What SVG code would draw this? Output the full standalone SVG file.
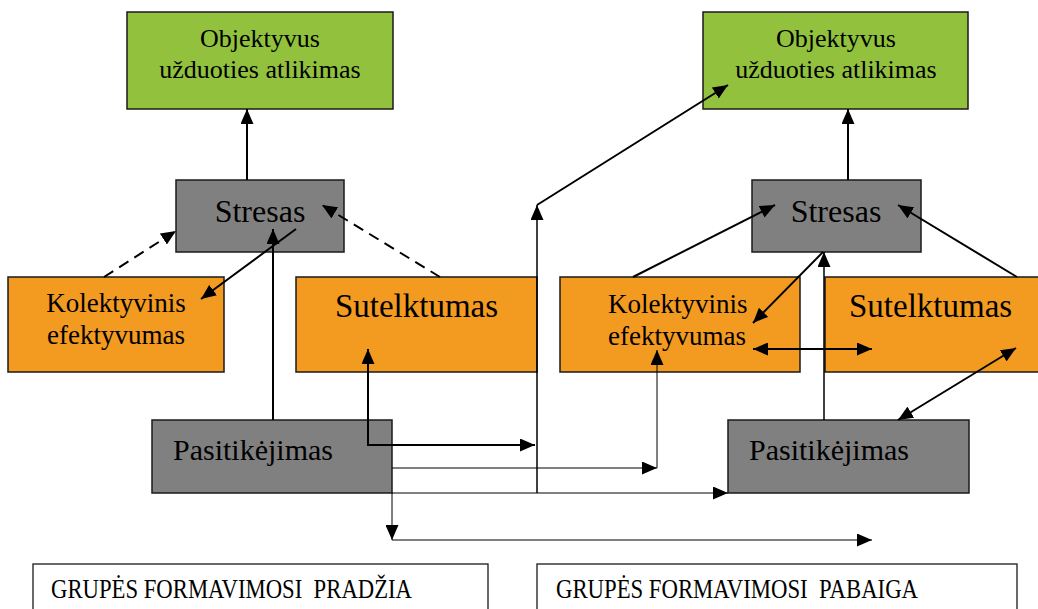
<svg xmlns="http://www.w3.org/2000/svg" width="1038" height="609" viewBox="0 0 1038 609">
<style>
.box{stroke:#1a1a1a;stroke-width:1.5}
.green{fill:#92C13E}
.orange{fill:#F39A20}
.gray{fill:#808080}
.label{fill:#fff;stroke:#1a1a1a;stroke-width:1.3}
text{font-family:"Liberation Serif","Times New Roman",serif;fill:#000}
.c{text-anchor:middle}
.pre{white-space:pre}
.ln{fill:none;stroke:#000;stroke-width:2}
.thin{fill:none;stroke:#000;stroke-width:1}
.mid{fill:none;stroke:#000;stroke-width:1.5}
.dash{stroke-dasharray:11 7}
.ae{marker-end:url(#arr)}
.as{marker-start:url(#arr)}
</style>
<defs>
<marker id="arr" markerUnits="userSpaceOnUse" markerWidth="15" markerHeight="13" refX="15" refY="6.5" orient="auto-start-reverse">
<path d="M0,0 L15,6.5 L0,13 z" fill="#000"/>
</marker>
</defs>

<g id="goal-left">
<rect class="box green" x="127" y="12" width="266" height="97"/>
<text class="c" x="260" y="47" font-size="26">Objektyvus</text>
<text class="c" x="260" y="78" font-size="26">užduoties atlikimas</text>
</g>
<g id="goal-right">
<rect class="box green" x="703" y="12" width="265" height="97"/>
<text class="c" x="836" y="47" font-size="26">Objektyvus</text>
<text class="c" x="836" y="78" font-size="26">užduoties atlikimas</text>
</g>

<g id="stress-left">
<rect class="box gray" x="176" y="180" width="168" height="72"/>
<text class="c" x="260" y="222" font-size="32">Stresas</text>
</g>
<g id="stress-right">
<rect class="box gray" x="752" y="180" width="169" height="72"/>
<text class="c" x="836" y="222" font-size="32">Stresas</text>
</g>

<g id="efficacy-left">
<rect class="box orange" x="8" y="277" width="216" height="95"/>
<text class="c" x="116" y="312" font-size="27">Kolektyvinis</text>
<text class="c" x="116" y="344" font-size="27">efektyvumas</text>
</g>
<g id="efficacy-right">
<rect class="box orange" x="560" y="277" width="240" height="95"/>
<text x="608" y="313" font-size="27">Kolektyvinis</text>
<text x="608" y="345" font-size="27">efektyvumas</text>
</g>

<g id="cohesion-left">
<rect class="box orange" x="296" y="277" width="241" height="95"/>
<text class="c" x="416.5" y="317" font-size="33">Sutelktumas</text>
</g>
<g id="cohesion-right">
<rect class="box orange" x="825" y="277" width="220" height="95"/>
<text x="849" y="317" font-size="33">Sutelktumas</text>
</g>

<g id="trust-left">
<rect class="box gray" x="152" y="420" width="240" height="73"/>
<text x="173" y="460" font-size="30">Pasitikėjimas</text>
</g>
<g id="trust-right">
<rect class="box gray" x="728" y="420" width="241" height="73"/>
<text x="749" y="460" font-size="30">Pasitikėjimas</text>
</g>

<g id="stage-start">
<rect class="label" x="33" y="564" width="455" height="60"/>
<text class="pre" x="51" y="598" font-size="28" textLength="361" lengthAdjust="spacingAndGlyphs">GRUPĖS FORMAVIMOSI  PRADŽIA</text>
</g>
<g id="stage-end">
<rect class="label" x="537" y="564" width="480" height="60"/>
<text class="pre" x="556" y="598" font-size="28" textLength="362" lengthAdjust="spacingAndGlyphs">GRUPĖS FORMAVIMOSI  PABAIGA</text>
</g>

<g id="connectors">
<path class="ln ae" d="M247,180 L247,109"/>
<path class="ln dash ae" d="M104,277 L176,231"/>
<path class="ln dash ae" d="M440,277 L322,205"/>
<path class="ln ae" d="M296,229 L201,299"/>
<path class="ln ae" d="M273,420 L273,229"/>
<path class="ln as ae" d="M368,349 L368,445 L535,445"/>
<path class="mid ae" d="M537,493 L537,205"/>
<path class="ln ae" d="M537,205 L728,85"/>
<path class="thin ae" d="M392,468 L657,468"/>
<path class="thin ae" d="M657,468 L657,350"/>
<path class="thin ae" d="M392,493 L728,493"/>
<path class="thin ae" d="M392,493 L392,540"/>
<path class="thin ae" d="M392,540 L872,540"/>

<path class="ln ae" d="M848,180 L848,109"/>
<path class="ln ae" d="M633,277 L775,205"/>
<path class="ln ae" d="M1017,277 L898,205"/>
<path class="ln ae" d="M823,252 L753,323"/>
<path class="mid ae" d="M824,420 L824,252"/>
<path class="ln as ae" d="M753,349 L872,349"/>
<path class="ln as ae" d="M898,420 L1016,348"/>
</g>
</svg>
